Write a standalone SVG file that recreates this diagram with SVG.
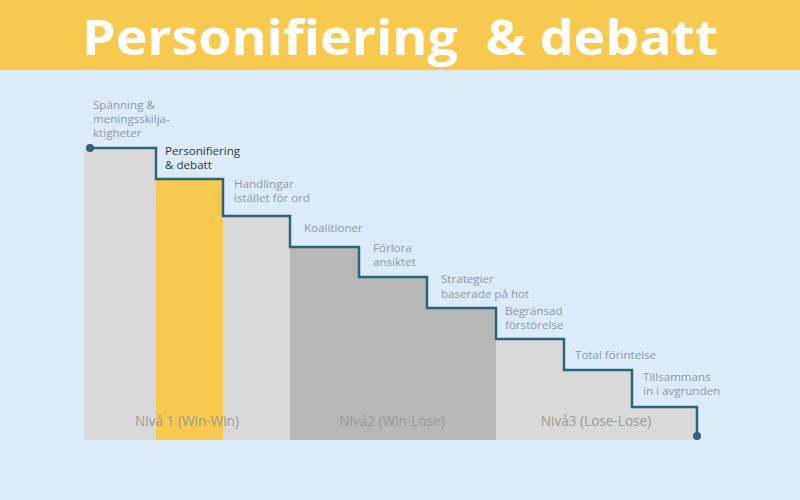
<svg xmlns="http://www.w3.org/2000/svg" width="800" height="500" viewBox="0 0 800 500">
<style>
.lbl{font-family:"Open Sans","Noto Sans","DejaVu Sans",sans-serif;font-size:11.6px;fill:#8c9aa6}
.cur{fill:#2b3a44}
.lvl{font-family:"Open Sans","Noto Sans","DejaVu Sans",sans-serif;font-size:13.6px;fill:#9a9a9a;text-anchor:middle}
.lg{fill:#d9d9d9}
.dg{fill:#b7b7b7}
</style>
<rect x="0" y="0" width="800" height="500" fill="#dcebf8"/>
<rect x="0" y="0" width="800" height="70" fill="#f7c94f"/>
<text x="400" y="55" text-anchor="middle" font-family="Open Sans, Noto Sans, sans-serif" font-weight="bold" font-size="48" fill="#ffffff" textLength="636" lengthAdjust="spacingAndGlyphs" xml:space="preserve">Personifiering  &amp; debatt</text>
<g id="columns">
<rect class="lg" x="84" y="148" width="72" height="292"/>
<rect x="156" y="179" width="67" height="261" fill="#f7c94f"/>
<rect class="lg" x="223" y="216" width="67" height="224"/>
<rect class="dg" x="290" y="247" width="69" height="193"/>
<rect class="dg" x="359" y="277" width="68" height="163"/>
<rect class="dg" x="427" y="308" width="69" height="132"/>
<rect class="lg" x="496" y="339" width="68" height="101"/>
<rect class="lg" x="564" y="370" width="68" height="70"/>
<rect class="lg" x="632" y="407" width="65" height="33"/>
</g>
<g id="connectors">
<polyline points="90,148 156,148 156,179 223,179 223,216 290,216 290,247 359,247 359,277 427,277 427,308 496,308 496,339 564,339 564,370 632,370 632,407 697,407 697,436" fill="none" stroke="#2d6478" stroke-width="2.5"/>
<circle cx="90" cy="148" r="4" fill="#2d6478"/>
<circle cx="697" cy="436" r="4" fill="#2d6478"/>
</g>
<g id="step1"><text class="lbl" x="93" y="109">Spänning &amp;</text><text class="lbl" x="93" y="123">meningsskilja-</text><text class="lbl" x="93" y="137">ktigheter</text></g>
<g id="step2"><text class="lbl cur" x="165" y="155">Personifiering</text><text class="lbl cur" x="165" y="169">&amp; debatt</text></g>
<g id="step3"><text class="lbl" x="234" y="188">Handlingar</text><text class="lbl" x="234" y="202">istället för ord</text></g>
<g id="step4"><text class="lbl" x="304" y="232">Koalitioner</text></g>
<g id="step5"><text class="lbl" x="373" y="252">Förlora</text><text class="lbl" x="373" y="266">ansiktet</text></g>
<g id="step6"><text class="lbl" x="441" y="283">Strategier</text><text class="lbl" x="441" y="298">baserade på hot</text></g>
<g id="step7"><text class="lbl" x="505" y="315">Begränsad</text><text class="lbl" x="505" y="329">förstörelse</text></g>
<g id="step8"><text class="lbl" x="575" y="359">Total förintelse</text></g>
<g id="step9"><text class="lbl" x="643" y="381">Tillsammans</text><text class="lbl" x="643" y="395">in i avgrunden</text></g>
<g id="levels">
<text class="lvl" x="187" y="426">Nivå 1 (Win-Win)</text>
<text class="lvl" x="392" y="426">Nivå2 (Win-Lose)</text>
<text class="lvl" x="596" y="426">Nivå3 (Lose-Lose)</text>
</g>
</svg>
